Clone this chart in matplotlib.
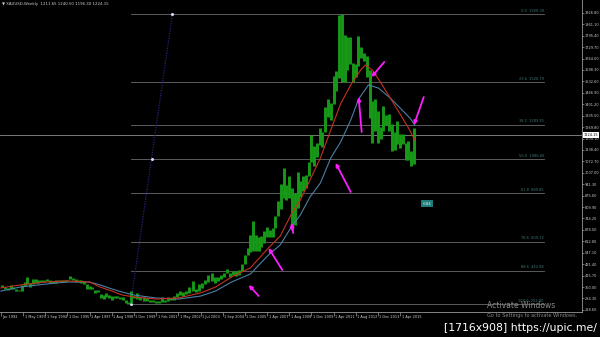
import numpy as np
import matplotlib
matplotlib.use("Agg")
import matplotlib.pyplot as plt
import matplotlib.transforms as mtransforms

# weekly gold chart
# x unit = months since Jan 1992, y = price (USD)

tick_months = [0, 16, 32, 47, 63, 79, 95, 109, 124, 138, 152, 167, 183, 199, 215, 231, 247, 263, 279]
tick_labels = ["Jan 1992", "1 May 1993", "1 Sep 1994", "1 Dec 1995", "1 Apr 1997", "1 Aug 1998",
               "1 Dec 1999", "1 Feb 2001", "1 May 2002", "1 Jul 2003", "1 Sep 2004", "1 Dec 2005",
               "1 Apr 2007", "1 Aug 2008", "1 Dec 2009", "1 Apr 2011", "1 Aug 2012", "1 Dec 2013",
               "1 Apr 2015"]

price_ticks = [1926.80, 1861.10, 1795.40, 1729.70, 1664.00, 1598.30, 1532.60, 1466.90, 1401.20,
               1335.50, 1269.80, 1204.10, 1138.40, 1072.70, 1007.00, 941.30, 875.60, 809.90,
               744.20, 678.50, 612.80, 547.10, 481.40, 415.70, 350.00, 284.30, 218.60]

# price range per two-month block, Jan-Feb 1992 ... Jan-Feb 2016
lows = [350, 336, 333, 340, 340, 330,
        326, 328, 355, 370, 350, 368,
        375, 375, 378, 377, 383, 375,
        372, 374, 383, 380, 380, 382,
        395, 388, 381, 380, 376, 367,
        340, 338, 337, 318, 320, 285,
        280, 292, 285, 278, 288, 287,
        280, 278, 256, 252, 257, 285,
        280, 275, 270, 270, 265, 264,
        256, 256, 265, 263, 270, 273,
        278, 292, 305, 300, 310, 315,
        330, 320, 327, 345, 365, 380,
        385, 375, 385, 395, 410, 430,
        410, 420, 415, 420, 440, 480,
        535, 550, 560, 560, 560, 580,
        605, 640, 640, 640, 690, 760,
        800, 860, 850, 860, 680, 705,
        805, 865, 900, 920, 990, 1070,
        1045, 1100, 1165, 1157, 1240, 1330,
        1310, 1405, 1480, 1550, 1530, 1530,
        1600, 1630, 1530, 1560, 1620, 1665,
        1650, 1555, 1320, 1180, 1250, 1180,
        1200, 1250, 1280, 1250, 1130, 1140,
        1170, 1150, 1170, 1080, 1080, 1046,
        1060]
highs = [362, 350, 345, 362, 350, 338,
         335, 360, 380, 406, 375, 395,
         395, 392, 393, 390, 398, 390,
         382, 393, 392, 390, 390, 390,
         416, 400, 395, 390, 388, 382,
         365, 355, 350, 335, 335, 310,
         305, 315, 305, 298, 300, 298,
         293, 290, 275, 262, 325, 300,
         315, 290, 290, 285, 275, 275,
         272, 270, 290, 275, 293, 285,
         300, 315, 330, 320, 326, 350,
         383, 340, 370, 375, 390, 417,
         428, 410, 410, 420, 430, 456,
         432, 440, 440, 447, 480, 537,
         575, 650, 730, 650, 640, 645,
         670, 695, 680, 690, 760, 845,
         945, 1033, 935, 990, 920, 890,
         1010, 960, 990, 995, 1070, 1227,
         1160, 1180, 1265, 1240, 1388, 1431,
         1410, 1565, 1595, 1912, 1920, 1800,
         1790, 1790, 1640, 1630, 1795, 1730,
         1695, 1680, 1600, 1420, 1433, 1360,
         1270, 1390, 1340, 1345, 1290, 1240,
         1307, 1230, 1230, 1180, 1190, 1130,
         1263]
bar_months = [1 + 2 * i for i in range(len(lows))]

# moving averages
red_months = [0, 13.8, 32, 47, 63, 70.6, 79, 86.6, 95, 109, 124, 138, 147.5, 158, 171, 184, 192.5,
              201, 207, 214, 221.5, 229, 236, 243.4, 250.6, 254, 259, 264.8, 271.9, 279, 284.7, 289.7]
red_ma = [345, 362, 379, 385, 379, 350, 327, 304, 293, 281, 287, 316, 350, 408, 460, 575, 643,
          776, 850, 965, 1092, 1253, 1402, 1512, 1598, 1627, 1598, 1529, 1437, 1345, 1270, 1195]
blue_months = [0, 13.8, 32, 47, 63, 70.6, 79, 86.6, 95, 109, 124, 138, 147.5, 158, 171, 184, 192.5,
               201, 207, 214, 221.5, 229, 236.1, 243.4, 249.1, 256.2, 263.4, 271.9, 279, 286.1, 289.7]
blue_ma = [327, 350, 367, 379, 379, 362, 339, 321, 304, 287, 281, 298, 327, 379, 425, 534, 592,
           701, 764, 868, 948, 1092, 1184, 1310, 1431, 1512, 1494, 1437, 1380, 1322, 1282]

last_price = 1224.15

# fibonacci retracement
fib_levels = [0.0, 23.6, 38.2, 50.0, 61.8, 78.6, 88.6, 100.0]
fib_high = 1920.30
fib_low = 252.90
fib_start, fib_end = 92.5, 382.8
fib_anchor_months = [92.5, 106.1, 120.0]

# hand drawn arrows: (tail month, tail price, head month, head price)
arrow_tail_m = [177.0, 194.0, 201.9, 243.4, 251.3, 267.6, 296.1]
arrow_tail_p = [298.5, 448.0, 660.8, 896.5, 1241.5, 1644.0, 1442.8]
arrow_head_m = [169.8, 184.1, 200.5, 232.5, 249.1, 258.4, 289.0]
arrow_head_p = [361.8, 574.5, 718.3, 1063.3, 1442.8, 1557.8, 1281.8]

tick_idx = np.arange(len(tick_months), dtype=float)
tm = np.array(tick_months, dtype=float)


def fwd(m):
    m = np.asarray(m, dtype=float)
    out = np.interp(m, tm, tick_idx)
    out = np.where(m > tm[-1], tick_idx[-1] + (m - tm[-1]) / 16.0, out)
    out = np.where(m < tm[0], m / 16.0, out)
    return out


def inv(i):
    i = np.asarray(i, dtype=float)
    out = np.interp(i, tick_idx, tm)
    out = np.where(i > tick_idx[-1], tm[-1] + (i - tick_idx[-1]) * 16.0, out)
    out = np.where(i < 0, i * 16.0, out)
    return out


fig = plt.figure(figsize=(6, 3.37), dpi=100, facecolor="black")
ax = fig.add_axes([0, 25 / 337, 582 / 600, 312 / 337])
ax.set_facecolor("black")
ax.set_xscale("function", functions=(fwd, inv))
ax.set_xlim(-0.7, 410.3)
ax.set_ylim(206.5, 2000.5)

# fib lines and labels
for lev in fib_levels:
    p = fib_high - (fib_high - fib_low) * lev / 100.0
    ax.plot([fib_start, fib_end], [p, p], color="#6a6a6a", lw=0.6, zorder=1)
    ax.text(fib_end, p + 8, "%.1f  %.2f" % (lev, p), color="#3f7777", fontsize=2.6,
            ha="right", va="bottom", zorder=2)

# fib trend line
ax.plot([fib_anchor_months[0], fib_anchor_months[2]], [fib_low, fib_high], color="#23237a",
        lw=0.9, ls=(0, (1, 1)), zorder=2)
ax.plot(fib_anchor_months, [fib_low, (fib_low + fib_high) / 2, fib_high], "o", ms=1.2,
        color="#d8d8ff", zorder=3)

# current price line
ax.axhline(last_price, color="#8c8c8c", lw=0.6, zorder=1)

# price bars
ax.vlines(bar_months, lows, highs, color="#179a17", lw=2.1, zorder=4)

# moving averages
ax.plot(blue_months, blue_ma, color="#4a7fa6", lw=0.8, zorder=5)
ax.plot(red_months, red_ma, color="#c4321e", lw=0.8, zorder=5)

# magenta arrows
for tx, ty, hx, hy in zip(arrow_tail_m, arrow_tail_p, arrow_head_m, arrow_head_p):
    ax.annotate("", xy=(hx, hy), xytext=(tx, ty),
                arrowprops=dict(arrowstyle="-|>", color="#ff1cff", lw=1.3,
                                mutation_scale=5, shrinkA=0, shrinkB=0), zorder=6)

# small teal label
ax.text(298.5, 830, "0.84", fontsize=2.8, color="#d8f4f4", ha="center", va="center",
        bbox=dict(boxstyle="square,pad=0.35", facecolor="#1f7c7a", edgecolor="none"), zorder=6)

# axes styling
for s in ["top", "left"]:
    ax.spines[s].set_visible(False)
for s in ["right", "bottom"]:
    ax.spines[s].set_color("#9a9a9a")
    ax.spines[s].set_linewidth(0.6)

ax.yaxis.tick_right()
ax.set_yticks(price_ticks, labels=["%.2f" % v for v in price_ticks])
ax.tick_params(axis="y", colors="#9a9a9a", labelcolor="#cfcfcf", labelsize=2.5,
               length=1.5, width=0.5, pad=0.6)
ax.set_xticks(tick_months, labels=tick_labels)
ax.tick_params(axis="x", colors="#9a9a9a", labelcolor="#cfcfcf", labelsize=2.5,
               length=3, width=0.5, pad=-1.0)
offset = mtransforms.ScaledTranslation(1.5 / 100, 0, fig.dpi_scale_trans)
for lbl in ax.get_xticklabels():
    lbl.set_horizontalalignment("left")
    lbl.set_transform(lbl.get_transform() + offset)
ax.xaxis.set_minor_locator(matplotlib.ticker.NullLocator())

trans = mtransforms.blended_transform_factory(ax.transAxes, ax.transData)
ax.text(1.003, last_price, "%.2f" % last_price, transform=trans, fontsize=2.5, color="black",
        ha="left", va="center", clip_on=False,
        bbox=dict(boxstyle="square,pad=0.2", facecolor="white", edgecolor="none"), zorder=7)

# header and overlays
fig.text(2 / 600, 1 - 3.5 / 337, "\u25bc XAUUSD,Weekly  1211.65 1240.50 1196.30 1224.15",
         fontsize=2.8, color="#d0d0d0", ha="left", va="center")
fig.text(487 / 600, 1 - 306 / 337, "Activate Windows", fontsize=5.5, color="#8a8a8a",
         ha="left", va="center")
fig.text(487 / 600, 1 - 315 / 337, "Go to Settings to activate Windows.", fontsize=3.6,
         color="#8a8a8a", ha="left", va="center")
fig.text(597 / 600, 1 - 328 / 337, "[1716x908] https://upic.me/", fontsize=7.8, color="white",
         ha="right", va="center")

fig.savefig("out.png", dpi=100, facecolor="black")
